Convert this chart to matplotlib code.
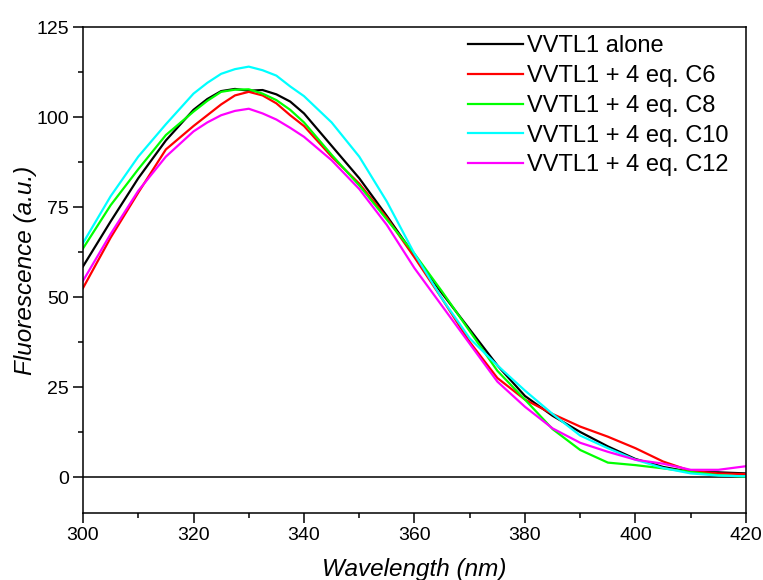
import numpy as np
import matplotlib
matplotlib.use('Agg')
import matplotlib.pyplot as plt
from matplotlib.ticker import MultipleLocator

plt.rcParams['font.family'] = ['Liberation Sans', 'DejaVu Sans']

# wavelength grid (nm), denser around the maximum
wavelength = [300, 305, 310, 315, 320, 322.5, 325, 327.5, 330, 332.5, 335, 337.5,
              340, 345, 350, 355, 360, 365, 370, 375, 380, 385, 390, 395,
              400, 405, 410, 415, 420]

# fluorescence values (a.u.)
alone = [58.5, 71, 83, 93.5, 102, 105, 107.2, 107.8, 107.3, 107.5, 106.3, 104.3,
         101, 92, 83, 72.5, 61.5, 51, 41, 31, 22.5, 17, 12.5, 8.5,
         5, 2.8, 1.4, 1.3, 1.0]
c6 = [52.5, 66.5, 79, 91, 97.5, 100.5, 103.5, 106, 107, 106, 103.8, 100.5,
      97.5, 89, 81.5, 72, 61, 49.5, 37.5, 27.5, 21.5, 17.5, 14, 11.2,
      8, 4.3, 1.7, 1.0, 0.8]
c8 = [63.5, 75.5, 85.5, 95, 101.5, 104.5, 107, 107.6, 107.7, 106.5, 104.7, 102,
      98.5, 89.5, 81, 71.5, 62, 51.5, 40.5, 29.5, 21.5, 13.3, 7.5, 4,
      3.3, 2.4, 1.4, 0.5, 0.1]
c10 = [65, 78, 89, 98, 106.5, 109.5, 112, 113.3, 114, 113, 111.5, 108.5,
       105.8, 98.5, 89, 76.5, 62, 49.5, 38.5, 31, 24, 17.5, 11.5, 8,
       4.8, 2.5, 1.0, 0.4, 0.2]
c12 = [54.5, 67.5, 79.5, 89, 96, 98.5, 100.5, 101.7, 102.3, 101, 99.3, 97,
       94.5, 88, 80, 70, 58, 47.5, 37, 26.5, 19.5, 13.5, 9.5, 7,
       4.8, 3.7, 2, 2, 3]

series = [
    ('VVTL1 alone', alone, 'black'),
    ('VVTL1 + 4 eq. C6', c6, '#ff0000'),
    ('VVTL1 + 4 eq. C8', c8, '#00ff00'),
    ('VVTL1 + 4 eq. C10', c10, '#00ffff'),
    ('VVTL1 + 4 eq. C12', c12, '#ff00ff'),
]

fig = plt.figure(figsize=(7.63, 5.8), dpi=100)
ax = fig.add_axes([0.1088, 0.1155, 0.8689, 0.8379])

ax.axhline(0, color='black', lw=1.1, zorder=1)
for label, vals, col in series:
    ax.plot(wavelength, vals, color=col, lw=1.6, label=label)

ax.set_xlim(300, 420)
ax.set_ylim(-10, 125)
ax.xaxis.set_major_locator(MultipleLocator(20))
ax.xaxis.set_minor_locator(MultipleLocator(10))
ax.yaxis.set_major_locator(MultipleLocator(25))
ax.yaxis.set_minor_locator(MultipleLocator(12.5))
ax.tick_params(which='both', direction='out', width=1.1, labelsize=14, pad=3)
ax.tick_params(which='major', length=7)
ax.tick_params(which='minor', length=3.5)
for sp in ax.spines.values():
    sp.set_linewidth(1.1)

ax.set_xlabel('Wavelength (nm)', fontsize=17.5, style='italic', labelpad=10)
ax.set_ylabel('Fluorescence (a.u.)', fontsize=17.5, style='italic', labelpad=0)

ax.legend(loc='upper left', bbox_to_anchor=(0.581, 0.983), frameon=False,
          fontsize=17, borderpad=0, borderaxespad=0, handlelength=2.3,
          handletextpad=0.2, labelspacing=0.33)

fig.savefig('out.png', dpi=100)
